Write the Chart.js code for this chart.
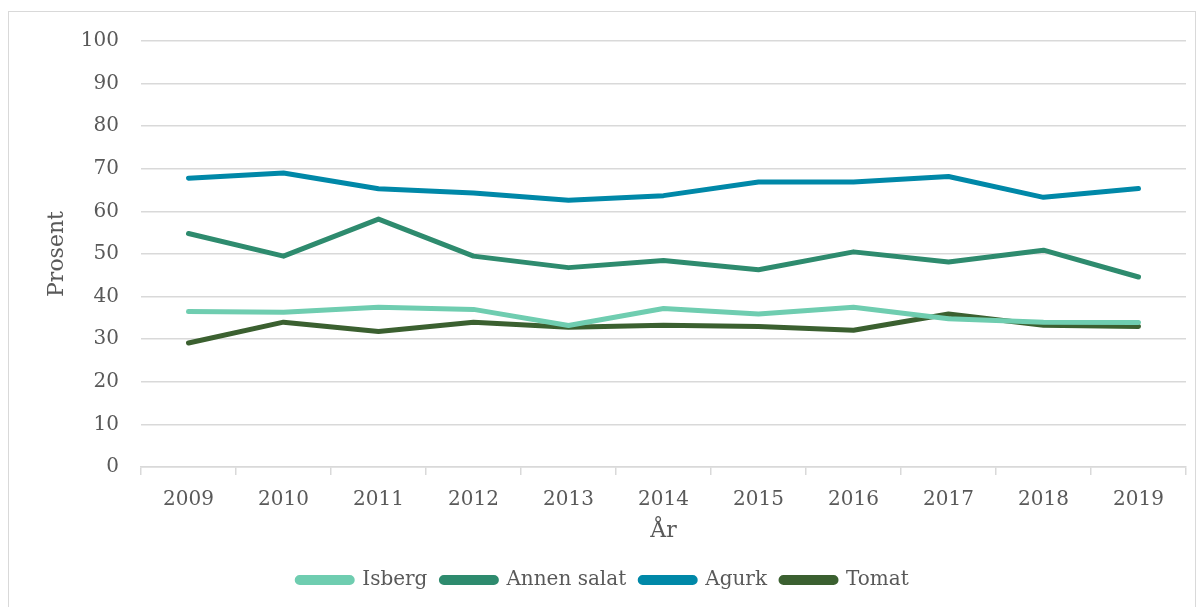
<!DOCTYPE html>
<html>
<head>
<meta charset="utf-8">
<script src="https://cdn.jsdelivr.net/npm/chart.js@4/dist/chart.umd.min.js"></script>
<style>
  html, body { margin: 0; padding: 0; background: #fff; }
  #wrap { position: absolute; left: 0; top: 0; width: 1204px; height: 607px; }
  #frame { position: absolute; left: 8px; top: 11px; width: 1188px; height: 600px; border: 1px solid #d9d9d9; box-sizing: border-box; pointer-events: none; }
</style>
</head>
<body>
<div id="wrap">
  <canvas id="c" width="1204" height="607"></canvas>
  <div id="frame"></div>
</div>
<script>
const years = ['2009','2010','2011','2012','2013','2014','2015','2016','2017','2018','2019'];
const isberg = [36.5, 36.3, 37.5, 37.0, 33.2, 37.2, 35.9, 37.5, 34.8, 34.0, 33.9];
const annenSalat = [54.8, 49.5, 58.2, 49.5, 46.8, 48.5, 46.3, 50.5, 48.1, 50.9, 44.6];
const agurk = [67.8, 69.0, 65.3, 64.3, 62.6, 63.7, 66.9, 66.9, 68.2, 63.3, 65.4];
const tomat = [29.1, 34.0, 31.8, 34.0, 32.8, 33.3, 33.0, 32.1, 35.9, 33.3, 33.0];
const yTicks = [0,10,20,30,40,50,60,70,80,90,100];

const FONT = "'DejaVu Serif', 'Liberation Serif', serif";
const TXT = '#595959';
const GRID = '#d9d9d9';

function ds(label, data, color) {
  return { label, data, borderColor: color, backgroundColor: color, borderWidth: 5,
    pointRadius: 0, pointHoverRadius: 0, tension: 0, borderCapStyle: 'round', borderJoinStyle: 'round', fill: false };
}

new Chart(document.getElementById('c'), {
  type: 'line',
  data: {
    labels: years,
    datasets: [
      ds('Isberg', isberg, '#6fcdb0'),
      ds('Annen salat', annenSalat, '#2e8b6e'),
      ds('Agurk', agurk, '#0088a8'),
      ds('Tomat', tomat, '#3b6030')
    ]
  },
  options: {
    responsive: false,
    animation: false,
    devicePixelRatio: 1,
    layout: { padding: { left: 20, right: 18, top: 41, bottom: 7 } },
    plugins: {
      tooltip: { enabled: false },
      legend: {
        position: 'bottom',
        labels: {
          font: { family: FONT, size: 20 },
          color: TXT,
          boxWidth: 55,
          boxHeight: 5,
          useBorderRadius: true,
          borderRadius: 2.5,
          padding: 14
        }
      }
    },
    scales: {
      x: {
        offset: true,
        afterFit: (s) => { s.height = 89; },
        grid: { offset: true, drawOnChartArea: false, drawTicks: true, tickLength: 8, color: GRID, lineWidth: 1.5 },
        border: { display: true, color: GRID, width: 1.5 },
        ticks: { font: { family: FONT, size: 20 }, color: TXT, padding: 13, maxRotation: 0 },
        title: { display: true, text: 'År', font: { family: FONT, size: 22 }, color: TXT, padding: { top: 0, bottom: 12 } }
      },
      y: {
        min: 0, max: 100,
        afterBuildTicks: (s) => { s.ticks = yTicks.map(v => ({ value: v })); },
        afterFit: (s) => { s.width = 121; },
        grid: { drawTicks: false, color: GRID, lineWidth: 1.5 },
        border: { display: false },
        ticks: { font: { family: FONT, size: 20 }, color: TXT, padding: 22 },
        title: { display: true, text: 'Prosent', font: { family: FONT, size: 22 }, color: TXT, padding: { top: 24, bottom: 0 } }
      }
    }
  }
});
</script>
</body>
</html>
